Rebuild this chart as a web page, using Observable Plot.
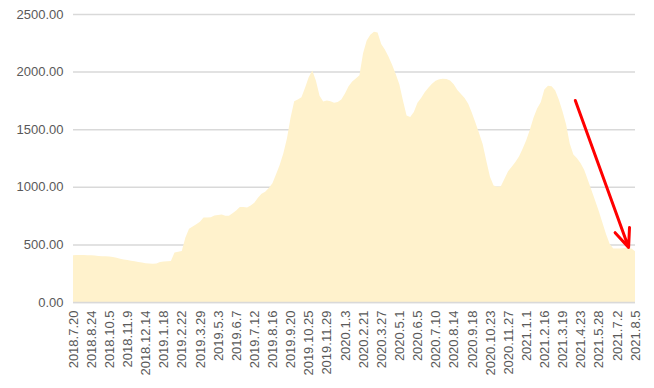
<!DOCTYPE html>
<html>
<head>
<meta charset="utf-8">
<script src="https://cdn.jsdelivr.net/npm/d3@7"></script>
<script src="https://cdn.jsdelivr.net/npm/@observablehq/plot@0.6"></script>
<style>
  html, body { margin: 0; padding: 0; background: #fff; }
  #chart { width: 654px; height: 388px; }
</style>
</head>
<body>
<div id="chart"></div>
<script>
// Tick labels (every 5th weekly point)
const tickLabels = [
  "2018.7.20","2018.8.24","2018.10.5","2018.11.9","2018.12.14","2019.1.18","2019.2.22","2019.3.29",
  "2019.5.3","2019.6.7","2019.7.12","2019.8.16","2019.9.20","2019.10.25","2019.11.29","2020.1.3",
  "2020.2.21","2020.3.27","2020.5.1","2020.6.5","2020.7.10","2020.8.14","2020.9.18","2020.10.23",
  "2020.11.27","2021.1.1","2021.2.16","2021.3.19","2021.4.23","2021.5.28","2021.7.2","2021.8.5"
];

// Weekly values (156 points)
const values = [
  406,407,408,407,405,405,404,400,398,397,
  394,390,384,376,370,364,358,353,347,342,
  337,334,333,335,348,351,354,356,430,436,
  443,560,635,655,675,696,734,734,736,750,
  756,760,748,748,770,795,825,824,820,838,
  862,905,940,957,990,1030,1110,1190,1290,1420,
  1600,1742,1758,1778,1860,1950,2010,1920,1790,1740,
  1750,1742,1730,1737,1757,1810,1873,1915,1940,1968,
  2160,2270,2320,2345,2340,2240,2192,2130,2060,1980,
  1890,1750,1620,1605,1650,1730,1770,1820,1860,1895,
  1920,1933,1937,1935,1922,1890,1840,1806,1770,1720,
  1642,1556,1465,1370,1225,1087,1012,1000,1005,1070,
  1135,1175,1215,1262,1330,1405,1495,1600,1680,1735,
  1845,1878,1872,1835,1755,1655,1540,1375,1280,1247,
  1205,1145,1060,970,880,790,690,590,505,464,
  464,465,468,470,465,440
];

const yTicks = [0, 500, 1000, 1500, 2000, 2500];

// Annotation arrow (in data units: week index, value)
const arrowAnno = [{x1: 138.4, y1: 1754, x2: 153.1, y2: 478}];

const data = values.map((v, i) => ({i, v}));
const xTicks = tickLabels.map((_, k) => k * 5);

const chart = Plot.plot({
  width: 654,
  height: 388,
  marginLeft: 73,
  marginRight: 19,
  marginTop: 14,
  marginBottom: 86,
  style: {fontFamily: "Liberation Sans, Arial, sans-serif", fontSize: "13px", color: "#595959", background: "#fff"},
  x: {type: "linear", domain: [0, values.length - 1]},
  y: {domain: [0, 2500]},
  marks: [
    Plot.ruleY(yTicks, {stroke: "#d9d9d9", strokeWidth: 1.5}),
    Plot.areaY(data, {x: "i", y: "v", fill: "#fff2cc", curve: "linear"}),
    Plot.ruleY([0], {stroke: "#d9d9d9", strokeWidth: 1.5}),
    Plot.arrow(arrowAnno, {x1: "x1", y1: "y1", x2: "x2", y2: "y2", stroke: "#ff0000", strokeWidth: 3, headLength: 10, headAngle: 45}),
    Plot.axisY(yTicks, {tickSize: 0, tickPadding: 10, tickFormat: d => d.toFixed(2), fontSize: 13, fill: "#595959"}),
    Plot.axisX(xTicks, {tickSize: 0, tickPadding: 8, tickRotate: -90, tickFormat: d => tickLabels[d / 5], fontSize: 13, fill: "#595959"})
  ]
});

document.getElementById("chart").appendChild(chart);
</script>
</body>
</html>
